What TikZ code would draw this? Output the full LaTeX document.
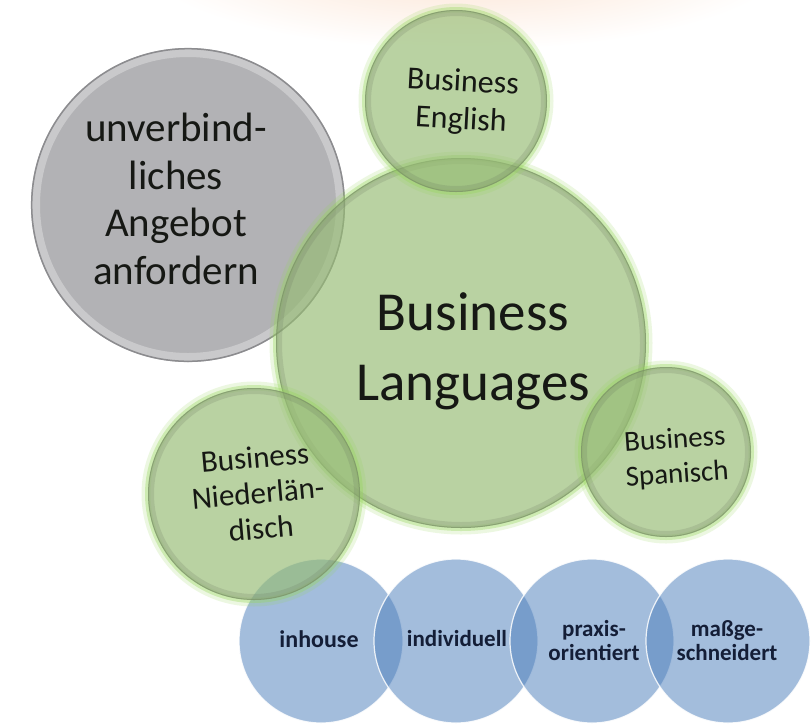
\documentclass[tikz,border=0pt]{standalone}
\usepackage{fontspec}
\setmainfont{Carlito}
\definecolor{gbase}{RGB}{150,188,115}
\definecolor{rimc}{RGB}{105,118,95}
\definecolor{glowc}{RGB}{150,215,90}
\definecolor{grayc}{RGB}{178,178,181}
\definecolor{grayedge}{RGB}{140,140,143}
\definecolor{bbase}{RGB}{79,129,189}
\definecolor{btext}{RGB}{20,30,55}
\definecolor{dtext}{RGB}{22,24,20}
\definecolor{peach}{RGB}{251,224,205}
\newcommand\gball[2]{%
  \draw[glowc, line width=9, draw opacity=0.18] (#1) circle[radius=#2+2];
  \draw[glowc, line width=4, draw opacity=0.35] (#1) circle[radius=#2+1];
  \fill[gbase, fill opacity=0.66] (#1) circle[radius=#2];
  \draw[rimc, line width=6, draw opacity=0.2] (#1) circle[radius=#2-3];
  \draw[rimc, line width=1, draw opacity=0.35] (#1) circle[radius=#2-0.5];
}
\begin{document}
\begin{tikzpicture}[x=1pt,y=-1pt,
  tx/.style={inner sep=0pt, align=center, text=dtext},
  btx/.style={inner sep=0pt, align=center, text=btext},
  bball/.style={fill=bbase, fill opacity=0.52, draw=white, draw opacity=0.85, line width=1.2pt}]
\useasboundingbox (0,0) rectangle (811,724);
\fill[white] (0,0) rectangle (811,724);
\shade[inner color=peach, outer color=white] (465,-45) ellipse[x radius=330, y radius=95];
% centres
\coordinate (cGray) at (188,205);
\coordinate (cMain) at (461,343);
\coordinate (cEng) at (456,101);
\coordinate (cSpa) at (666,452);
\coordinate (cNie) at (254,494);
\coordinate (b1) at (321,641);
\coordinate (b2) at (456,641);
\coordinate (b3) at (592,641);
\coordinate (b4) at (728,641);
% grey ball
\fill[grayc] (cGray) circle[radius=157];
\draw[white, line width=8, draw opacity=0.3] (cGray) circle[radius=152];
\draw[grayedge, line width=1.5] (cGray) circle[radius=156.3];
% blue balls
\path[bball] (b1) circle[radius=82];
\path[bball] (b2) circle[radius=82];
\path[bball] (b3) circle[radius=82];
\path[bball] (b4) circle[radius=82];
% green balls
\gball{cMain}{185}
\gball{cEng}{91}
\gball{cSpa}{85}
\gball{cNie}{106}
% texts
\node[tx, font=\fontsize{41}{47.5}\selectfont] (tGray) at (176,199) {unverbind-\\liches\\Angebot\\anfordern};
\node[tx, font=\fontsize{55}{70}\selectfont] (tMain) at (473,351) {Business\\Languages};
\node[tx, font=\fontsize{32}{38}\selectfont, rotate=-3] (tEng) at (462,102) {Business\\English};
\node[tx, font=\fontsize{29}{35}\selectfont, rotate=4] (tSpa) at (676,458) {Business\\Spanisch};
\node[tx, font=\fontsize{31}{35.5}\selectfont, rotate=5] (tNie) at (258,493) {Business\\Niederlän-\\disch};
\node[btx, font=\fontsize{24}{24}\bfseries\selectfont] (tIn) at (319,639) {inhouse};
\node[btx, font=\fontsize{23}{23}\bfseries\selectfont] (tInd) at (457,639) {individuell};
\node[btx, font=\fontsize{23}{24}\bfseries\selectfont] (tPra) at (594,641) {praxis-\\orientiert};
\node[btx, font=\fontsize{23}{24}\bfseries\selectfont] (tMas) at (727,641) {maßge-\\schneidert};
\end{tikzpicture}
\end{document}
